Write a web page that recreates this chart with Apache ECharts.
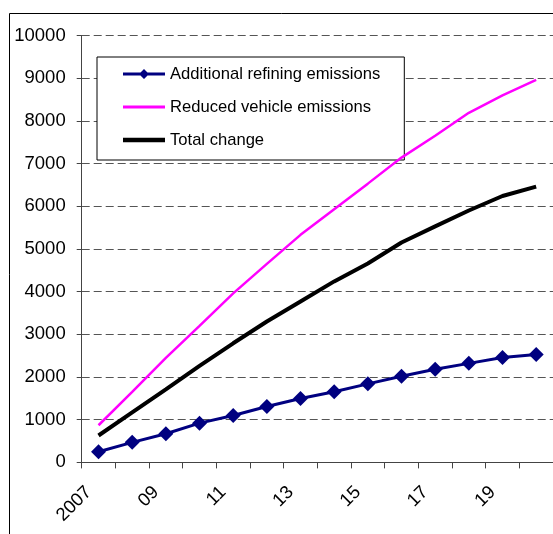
<!DOCTYPE html>
<html>
<head>
<meta charset="utf-8">
<script src="https://cdn.jsdelivr.net/npm/echarts@6/dist/echarts.min.js"></script>
<style>
  html, body { margin: 0; padding: 0; background: #fff; }
  #chart { width: 553px; height: 534px; }
</style>
</head>
<body>
<div id="chart"></div>
<script>
// Years on the horizontal axis (2007 written in full, later years abbreviated)
const years = ['2007', '08', '09', '10', '11', '12', '13', '14', '15', '16', '17', '18', '19', '20'];
const yTicks = [0, 1000, 2000, 3000, 4000, 5000, 6000, 7000, 8000, 9000, 10000];

// Cumulative emissions changes
const refiningEmissions = [250, 470, 670, 920, 1100, 1310, 1495, 1655, 1840, 2020, 2180, 2320, 2455, 2530];
const vehicleEmissions  = [870, 1650, 2450, 3200, 3960, 4650, 5330, 5930, 6530, 7140, 7650, 8190, 8600, 8960];
const totalChange       = [630, 1170, 1710, 2260, 2790, 3300, 3770, 4240, 4660, 5150, 5530, 5900, 6240, 6460];

const FONT = '"Liberation Sans", Arial, sans-serif';

// Legend keys: plain line strokes, the refining key also carries a diamond marker
const ICON_LINE_DIAMOND = 'path://M0,3.6H42V6.4H0Z M21,0L26,5L21,10L16,5Z';
const ICON_LINE_THIN = 'path://M0,0H42V2.8H0Z';
const ICON_LINE_THICK = 'path://M0,0H42V4.5H0Z';

const chart = echarts.init(document.getElementById('chart'), null, { renderer: 'canvas' });

chart.setOption({
  backgroundColor: '#ffffff',
  animation: false,
  textStyle: { fontFamily: FONT, color: '#000' },
  graphic: [{
    type: 'rect',
    silent: true,
    z: -1,
    shape: { x: 9.5, y: 13.5, width: 700, height: 700 },
    style: { fill: 'none', stroke: '#000', lineWidth: 1 }
  }],
  grid: { left: 81.7, right: -11, top: 35.5, bottom: 71.6, containLabel: false },
  legend: {
    orient: 'vertical',
    left: 97,
    top: 57,
    padding: [7, 24, 10, 26],
    itemGap: 13,
    itemWidth: 42,
    itemHeight: 12,
    borderColor: '#000',
    borderWidth: 1,
    backgroundColor: '#fff',
    textStyle: { fontFamily: FONT, fontSize: 16.6, color: '#000', lineHeight: 20 },
    data: [
      { name: 'Additional refining emissions', icon: ICON_LINE_DIAMOND },
      { name: 'Reduced vehicle emissions', icon: ICON_LINE_THIN },
      { name: 'Total change', icon: ICON_LINE_THICK }
    ]
  },
  xAxis: {
    type: 'category',
    data: years,
    boundaryGap: true,
    axisLine: { lineStyle: { color: '#444', width: 1 } },
    axisTick: { show: true, interval: 0, length: 6, lineStyle: { color: '#444' } },
    axisLabel: {
      interval: 1,
      rotate: 45,
      margin: 17,
      padding: [0, 14, 0, 0],
      fontFamily: FONT,
      fontSize: 18.5,
      color: '#000'
    },
    splitLine: { show: false }
  },
  yAxis: {
    type: 'value',
    min: yTicks[0],
    max: yTicks[yTicks.length - 1],
    interval: yTicks[1] - yTicks[0],
    axisLine: { show: true, lineStyle: { color: '#444', width: 1 } },
    axisTick: { show: true, length: 5, lineStyle: { color: '#444' } },
    axisLabel: {
      margin: 16,
      fontFamily: FONT,
      fontSize: 18.5,
      color: '#000',
      formatter: function (v) { return String(v); }
    },
    splitLine: { show: true, lineStyle: { color: '#555', width: 1, type: [8, 4] } }
  },
  series: [
    {
      name: 'Additional refining emissions',
      type: 'line',
      data: refiningEmissions,
      symbol: 'diamond',
      symbolSize: 15,
      showAllSymbol: true,
      color: '#000080',
      itemStyle: { color: '#000080' },
      lineStyle: { color: '#000080', width: 3 },
      z: 3
    },
    {
      name: 'Reduced vehicle emissions',
      type: 'line',
      data: vehicleEmissions,
      symbol: 'none',
      color: '#ff00ff',
      lineStyle: { color: '#ff00ff', width: 2.5 },
      z: 4
    },
    {
      name: 'Total change',
      type: 'line',
      data: totalChange,
      symbol: 'none',
      color: '#000000',
      lineStyle: { color: '#000000', width: 4 },
      z: 5
    }
  ]
});
</script>
</body>
</html>
